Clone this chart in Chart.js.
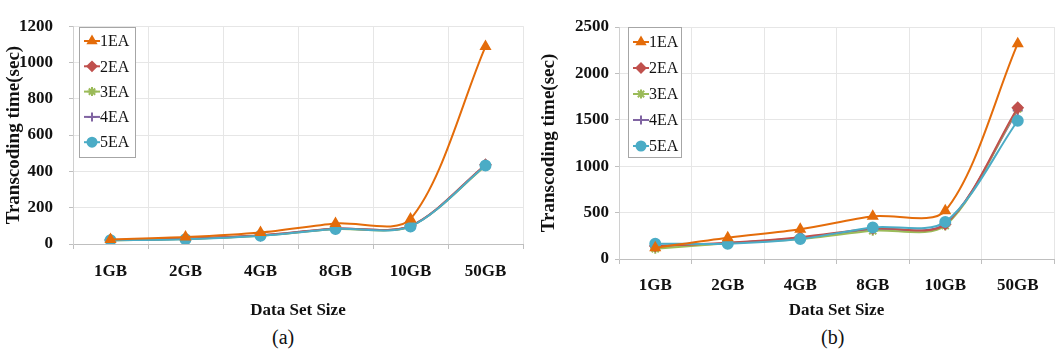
<!DOCTYPE html>
<html>
<head>
<meta charset="utf-8">
<script src="https://cdn.jsdelivr.net/npm/chart.js@4"></script>
<style>
  html, body { margin: 0; padding: 0; background: #fff; }
  body { width: 1061px; height: 356px; position: relative; overflow: hidden; }
  .panel { position: absolute; top: 0; height: 325px; }
  #wrap-a { left: 0; width: 530px; }
  #wrap-b { left: 530px; width: 531px; }
  .cap { position: absolute; top: 326px; font: 20px "Liberation Serif", serif; color: #111; }
</style>
</head>
<body>
<div class="panel" id="wrap-a"><canvas id="chart-a"></canvas></div>
<div class="panel" id="wrap-b"><canvas id="chart-b"></canvas></div>
<div class="cap" style="left:272px">(a)</div>
<div class="cap" style="left:821px">(b)</div>
<script>
// Two panels: transcoding time vs data set size, for 1..5 EA.

const SIZES = ["1GB", "2GB", "4GB", "8GB", "10GB", "50GB"];
const SERIES = ["1EA", "2EA", "3EA", "4EA", "5EA"];

// panel (a)
const A_1EA = [25, 38, 63, 113, 138, 1088];
const A_2EA = [22, 30, 48, 85, 100, 437];
const A_3EA = [20, 28, 46, 82, 98, 430];
const A_4EA = [21, 29, 47, 84, 99, 434];
const A_5EA = [21, 26, 45, 83, 97, 432];

// panel (b)
const B_1EA = [120, 230, 320, 460, 520, 2320];
const B_2EA = [140, 175, 235, 330, 375, 1630];
const B_3EA = [110, 170, 215, 305, 360, 1620];
const B_4EA = [135, 170, 225, 320, 380, 1600];
const B_5EA = [165, 165, 215, 340, 400, 1490];

const COLORS = ["#E46C0A", "#C0504D", "#9BBB59", "#8064A2", "#4BACC6"];
const MARKERS = ["triangle", "rectRot", "star", "cross", "circle"];
const DRAW_ORDER = [0, 2, 3, 4, 1];

Chart.defaults.font.family = '"Liberation Serif", "Times New Roman", serif';
Chart.defaults.color = "#111";

// Framed legend inside the plot, line + marker like the spreadsheet original.
const boxLegend = {
  id: "boxLegend",
  afterDatasetsDraw(chart, args, opts) {
    const { ctx, chartArea } = chart;
    const x0 = Math.round(chartArea.left + opts.dx);
    const y0 = Math.round(chartArea.top + opts.dy);
    ctx.save();
    ctx.fillStyle = "#fff";
    ctx.fillRect(x0, y0, opts.w, opts.h);
    ctx.strokeStyle = "#a6a6a6";
    ctx.lineWidth = 1;
    ctx.strokeRect(x0 + 0.5, y0 + 0.5, opts.w, opts.h);
    chart.data.datasets.forEach((ds, i) => {
      const y = y0 + opts.first + i * opts.row;
      ctx.strokeStyle = ds.borderColor;
      ctx.fillStyle = ds.borderColor;
      ctx.lineWidth = 2;
      ctx.beginPath();
      ctx.moveTo(x0 + 5, y);
      ctx.lineTo(x0 + 21, y);
      ctx.stroke();
      Chart.helpers.drawPoint(ctx, { pointStyle: ds.pointStyle, radius: 4.5, borderWidth: 2, rotation: 0 }, x0 + 13, y);
      ctx.fillStyle = "#111";
      ctx.font = '16px "Liberation Serif", serif';
      ctx.textBaseline = "middle";
      ctx.fillText(ds.label, x0 + 21, y + 1);
    });
    ctx.restore();
  },
};

function makeDatasets(rows) {
  return SERIES.map((name, i) => ({
    label: name,
    data: rows[i],
    borderColor: COLORS[i],
    backgroundColor: COLORS[i],
    pointStyle: MARKERS[i],
    pointRadius: 5,
    pointBorderWidth: 2,
    borderWidth: 2,
    tension: 0.3,
    order: DRAW_ORDER[i],
  }));
}

function drawPanel(id, rows, cfg) {
  new Chart(document.getElementById(id), {
    type: "line",
    data: { labels: SIZES, datasets: makeDatasets(rows) },
    plugins: [boxLegend],
    options: {
      responsive: true,
      maintainAspectRatio: false,
      animation: false,
      layout: { padding: { top: cfg.top, right: cfg.right, left: 0, bottom: 0 } },
      plugins: {
        legend: { display: false },
        tooltip: { enabled: false },
        boxLegend: cfg.legend,
      },
      scales: {
        x: {
          offset: true,
          afterFit: (s) => { s.height = cfg.xHeight; },
          grid: { offset: true, color: "#e6e6e6", tickLength: 5, tickColor: "#bfbfbf" },
          border: { color: "#bfbfbf" },
          ticks: { font: { size: 17, weight: "bold" }, padding: cfg.xPad, maxRotation: 0 },
          title: {
            display: true, text: "Data Set Size",
            font: { size: 17, weight: "bold" }, padding: { top: 0, bottom: cfg.xTitleBottom },
          },
        },
        y: {
          min: 0, max: cfg.max,
          afterFit: (s) => { s.width = cfg.yWidth; },
          grid: { color: "#e6e6e6", tickLength: 4, tickColor: "#bfbfbf" },
          border: { color: "#d0d0d0" },
          ticks: {
            stepSize: cfg.step, font: { size: 17, weight: "bold" }, padding: cfg.yPad,
            callback: (v) => String(v),
          },
          title: {
            display: true, text: "Transcoding time(sec)",
            font: { size: 19, weight: "bold" }, padding: { top: cfg.yTitleTop, bottom: 0 },
          },
        },
      },
    },
  });
}

drawPanel("chart-a", [A_1EA, A_2EA, A_3EA, A_4EA, A_5EA], {
  max: 1200, step: 200, top: 17, right: 7, xHeight: 81, yWidth: 73,
  xPad: 12, yPad: 16, xTitleBottom: 4, yTitleTop: 3,
  legend: { dx: 6, dy: 1, w: 56, h: 130, first: 14, row: 25.3 },
});

drawPanel("chart-b", [B_1EA, B_2EA, B_3EA, B_4EA, B_5EA], {
  max: 2500, step: 500, top: 27, right: 3, xHeight: 66, yWidth: 89,
  xPad: 11, yPad: 6, xTitleBottom: 4, yTitleTop: 8,
  legend: { dx: 9, dy: 0, w: 53, h: 130, first: 15, row: 26 },
});
</script>
</body>
</html>
